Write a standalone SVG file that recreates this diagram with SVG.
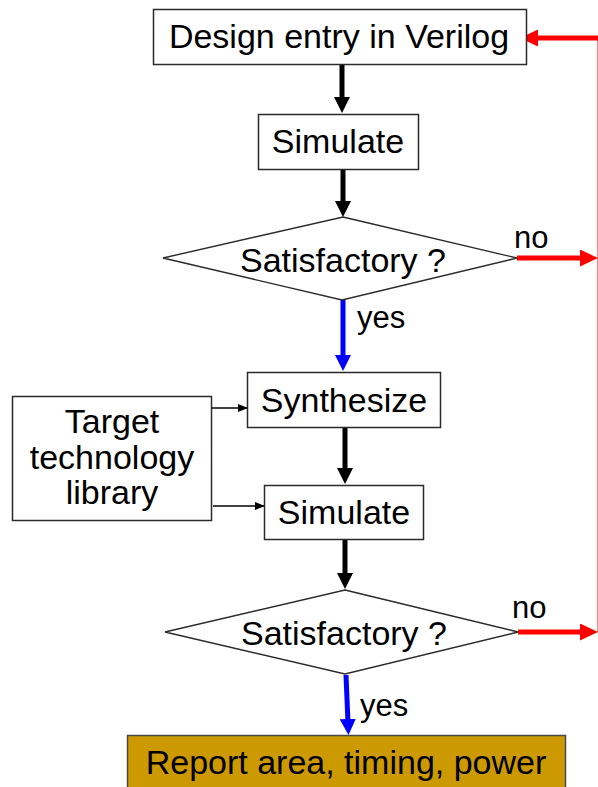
<svg xmlns="http://www.w3.org/2000/svg" width="598" height="787" viewBox="0 0 598 787">
  <style>
    .box { fill: #ffffff; stroke: #2a2a2a; stroke-width: 1.5; }
    .dia { fill: #ffffff; stroke: #2a2a2a; stroke-width: 1.4; }
    .lbl { font-family: "Liberation Sans", Arial, sans-serif; font-size: 34px; fill: #000000; text-anchor: middle; }
    .tag { font-family: "Liberation Sans", Arial, sans-serif; font-size: 31px; fill: #000000; }
    .flow { stroke: #000000; stroke-width: 5; fill: none; marker-end: url(#headBlack); }
    .yes { stroke: #0000ff; stroke-width: 5; fill: none; marker-end: url(#headBlue); }
    .no { stroke: #ff0000; stroke-width: 5; fill: none; marker-end: url(#headRed); }
    .thin { stroke: #000000; stroke-width: 1.3; fill: none; marker-end: url(#headThin); }
  </style>
  <defs>
    <marker id="headBlack" viewBox="0 0 16 16" refX="4" refY="8" markerWidth="16" markerHeight="16" markerUnits="userSpaceOnUse" orient="auto">
      <path d="M0,0 L16,8 L0,16 z" fill="#000000"/>
    </marker>
    <marker id="headBlue" viewBox="0 0 16 16" refX="4" refY="8" markerWidth="16" markerHeight="16" markerUnits="userSpaceOnUse" orient="auto">
      <path d="M0,0 L16,8 L0,16 z" fill="#0000ff"/>
    </marker>
    <marker id="headRed" viewBox="0 0 18 17" refX="5" refY="8.5" markerWidth="18" markerHeight="17" markerUnits="userSpaceOnUse" orient="auto">
      <path d="M0,0 L18,8.5 L0,17 z" fill="#ff0000"/>
    </marker>
    <marker id="headThin" viewBox="0 0 10 8" refX="9" refY="4" markerWidth="10" markerHeight="8" markerUnits="userSpaceOnUse" orient="auto">
      <path d="M0,0 L10,4 L0,8 z" fill="#000000"/>
    </marker>
  </defs>

  <!-- connectors -->
  <g id="connectors">
    <line class="flow" x1="342" y1="64" x2="342" y2="101"/>
    <line class="flow" x1="343" y1="169" x2="343" y2="205"/>
    <line class="yes" x1="343" y1="300" x2="343" y2="359"/>
    <line class="flow" x1="345" y1="428" x2="345" y2="472"/>
    <line class="flow" x1="345" y1="540" x2="345" y2="577"/>
    <line class="yes" x1="346" y1="675" x2="348" y2="723"/>
    <line class="no" x1="517" y1="258" x2="585" y2="258"/>
    <line class="no" x1="518" y1="632" x2="585" y2="632"/>
    <!-- return path to design entry -->
    <path class="no" d="M600,632 L600,38 L533,38"/>
    <line class="thin" x1="211" y1="408" x2="247" y2="408"/>
    <line class="thin" x1="213" y1="506" x2="264" y2="506"/>
    <text class="tag" x="514" y="248">no</text>
    <text class="tag" x="357" y="328">yes</text>
    <text class="tag" x="512" y="618">no</text>
    <text class="tag" x="360" y="716">yes</text>
  </g>

  <g id="design-entry">
    <rect class="box" x="153.5" y="9.5" width="373" height="55"/>
    <text class="lbl" x="339" y="48">Design entry in Verilog</text>
  </g>

  <g id="simulate-rtl">
    <rect class="box" x="258.5" y="114.5" width="160" height="55"/>
    <text class="lbl" x="338" y="153">Simulate</text>
  </g>

  <g id="check-rtl">
    <polygon class="dia" points="343,217 517,258 342,300 163,258"/>
    <text class="lbl" x="343" y="272">Satisfactory ?</text>
  </g>

  <g id="synthesize">
    <rect class="box" x="247.5" y="372.5" width="193" height="55"/>
    <text class="lbl" x="344" y="412">Synthesize</text>
  </g>

  <g id="tech-library">
    <rect class="box" x="12.5" y="396.5" width="199" height="124"/>
    <text class="lbl" x="112" y="433">Target</text>
    <text class="lbl" x="112" y="469">technology</text>
    <text class="lbl" x="112" y="504">library</text>
  </g>

  <g id="simulate-gate">
    <rect class="box" x="264.5" y="485.5" width="159" height="54"/>
    <text class="lbl" x="344" y="524">Simulate</text>
  </g>

  <g id="check-gate">
    <polygon class="dia" points="345,590 518,632 345,674 165,632"/>
    <text class="lbl" x="344" y="645">Satisfactory ?</text>
  </g>

  <g id="report">
    <rect x="127.5" y="735.5" width="438" height="70" fill="#cc9900" stroke="#4a4a4a" stroke-width="1.5"/>
    <text class="lbl" x="346" y="774">Report area, timing, power</text>
  </g>
</svg>
